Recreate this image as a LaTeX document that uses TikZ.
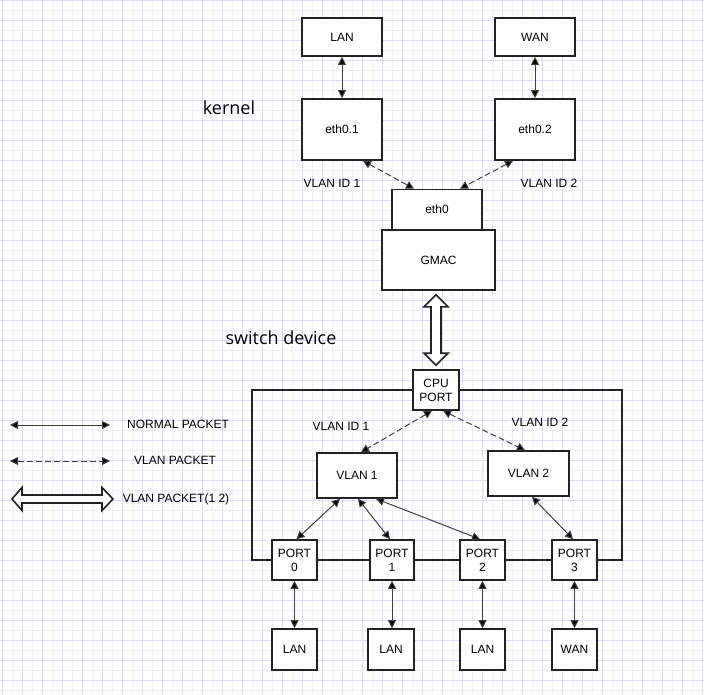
\documentclass[tikz,border=0pt]{standalone}
\usepackage{fontspec}
\setmainfont{Liberation Sans}
\newfontfamily\titlefont{Open Sans}
\usetikzlibrary{arrows.meta,calc}
\definecolor{gridminor}{RGB}{237,237,252}
\definecolor{gridmajor}{RGB}{220,220,248}
\definecolor{boxline}{RGB}{34,34,34}
\tikzset{
  box/.style={draw=boxline, line width=1.6pt, fill=white, inner sep=0pt, align=center,
    font=\fontsize{12}{14}\selectfont},
  lbl/.style={inner sep=0pt, font=\fontsize{12}{14}\selectfont},
  title/.style={inner sep=0pt, font=\titlefont\fontsize{18}{20}\selectfont},
  conn/.style={draw=black!75, line width=1pt, {Triangle[length=8pt,width=8pt,fill=black]}-{Triangle[length=8pt,width=8pt,fill=black]}},
  vconn/.style={conn, dash pattern=on 6pt off 3pt},
  hollow/.style={draw=boxline, line width=1.6pt, fill=white, line join=miter},
}
\begin{document}
\begin{tikzpicture}[x=1pt,y=-1pt]
\useasboundingbox (0,0) rectangle (704,694);
% grid background
\foreach \x in {2,12,...,702} \draw[gridminor, line width=1pt] (\x,0) -- (\x,694);
\foreach \y in {10,20,...,690} \draw[gridminor, line width=1pt] (0,\y) -- (704,\y);
\foreach \x in {2,22,...,702} \draw[gridmajor, line width=1pt] (\x,0) -- (\x,694);
\foreach \y in {0,20,...,680} \draw[gridmajor, line width=1pt] (0,\y) -- (704,\y);

% kernel part
\node[title] (kernel) at (229,108) {kernel};
\node[box, minimum width=80pt, minimum height=38pt] (lanT) at (342,37) {LAN};
\node[box, minimum width=80pt, minimum height=38pt] (wanT) at (535,37) {WAN};
\node[box, minimum width=80pt, minimum height=61pt] (eth01) at (342,129.5) {eth0.1};
\node[box, minimum width=80pt, minimum height=61pt] (eth02) at (535,129.5) {eth0.2};
\node[lbl] (vid1a) at (332,183) {VLAN ID 1};
\node[lbl] (vid2a) at (549,183) {VLAN ID 2};
\node[box, minimum width=113pt, minimum height=60pt] (gmac) at (438.5,260) {GMAC};
\node[box, minimum width=90pt, minimum height=40pt] (eth0) at (437,209.5) {eth0};

\draw[conn] (lanT) -- (eth01);
\draw[conn] (wanT) -- (eth02);
\draw[vconn] ([xshift=21pt]eth01.south) -- ([xshift=-23pt]eth0.north);
\draw[vconn] ([xshift=-22pt]eth02.south) -- ([xshift=23pt]eth0.north);

% switch part
\node[title] (switchdev) at (281,338) {switch device};
\node[draw=boxline, line width=1.6pt, minimum width=370pt, minimum height=170pt, inner sep=0pt] (switch) at (437,475) {};
\node[box, minimum width=46pt, minimum height=40pt] (cpu) at (436,390) {CPU\\PORT};
\node[lbl] (vid1b) at (341,426) {VLAN ID 1};
\node[lbl] (vid2b) at (540,422) {VLAN ID 2};
\node[box, minimum width=80pt, minimum height=45pt] (vlan1) at (357,475.5) {VLAN 1};
\node[box, minimum width=81pt, minimum height=45pt] (vlan2) at (528.5,473.5) {VLAN 2};
\node[box, minimum width=45pt, minimum height=40pt] (port0) at (294.5,560) {PORT\\0};
\node[box, minimum width=44pt, minimum height=40pt] (port1) at (392,560) {PORT\\1};
\node[box, minimum width=45pt, minimum height=40pt] (port2) at (482.5,560) {PORT\\2};
\node[box, minimum width=45pt, minimum height=40pt] (port3) at (574.5,560) {PORT\\3};
\node[box, minimum width=45pt, minimum height=41pt] (lan0) at (294.5,649.5) {LAN};
\node[box, minimum width=46pt, minimum height=41pt] (lan1) at (391,649.5) {LAN};
\node[box, minimum width=45pt, minimum height=41pt] (lan2) at (482.5,649.5) {LAN};
\node[box, minimum width=45pt, minimum height=41pt] (wan3) at (574.5,649.5) {WAN};

% hollow double arrow GMAC <-> CPU PORT
\coordinate (ht) at ($(cpu.north |- gmac.south)+(0,4)$);
\coordinate (hb) at ($(cpu.north)+(0,-4)$);
\draw[hollow] (ht) -- ++(12,12) -- ++(-7,0) -- ($(hb)+(5,-12)$) -- ++(7,0) -- (hb)
  -- ++(-12,-12) -- ++(7,0) -- ($(ht)+(-5,12)$) -- ++(-7,0) -- cycle;

\draw[vconn] ([xshift=-4pt]cpu.south) -- ([xshift=4pt]vlan1.north);
\draw[vconn] ([xshift=7pt]cpu.south) -- ([xshift=-3.5pt]vlan2.north);
\draw[conn] ([xshift=-17pt]vlan1.south) -- ([xshift=2pt]port0.north);
\draw[conn] ([xshift=1pt]vlan1.south) -- ([xshift=-2pt]port1.north);
\draw[conn] ([xshift=19pt]vlan1.south) -- ([xshift=-2.5pt]port2.north);
\draw[conn] ([xshift=3.5pt]vlan2.south) -- ([xshift=-1.5pt]port3.north);
\draw[conn] (port0) -- (lan0);
\draw[conn] (port1) -- (port1 |- lan1.north);
\draw[conn] (port2) -- (lan2);
\draw[conn] (port3) -- (wan3);

% legend
\coordinate (l1a) at (10,425); \coordinate (l1b) at (110,425);
\coordinate (l2a) at (10,461); \coordinate (l2b) at (110,461);
\coordinate (l3a) at (12,499); \coordinate (l3b) at (113,499);
\draw[conn] (l1a) -- (l1b);
\draw[vconn] (l2a) -- (l2b);
\draw[hollow] (l3a) -- ++(10,-11.5) -- ++(0,7.5) -- ($(l3b)+(-11,-4)$) -- ++(0,-7.5) -- (l3b)
  -- ++(-11,11.5) -- ++(0,-7.5) -- ($(l3a)+(10,4)$) -- ++(0,7.5) -- cycle;
\node[lbl] (t1) at (178,424) {NORMAL PACKET};
\node[lbl] (t2) at (175,460) {VLAN PACKET};
\node[lbl] (t3) at (176,499) {VLAN PACKET(1 2)};
\end{tikzpicture}
\end{document}
